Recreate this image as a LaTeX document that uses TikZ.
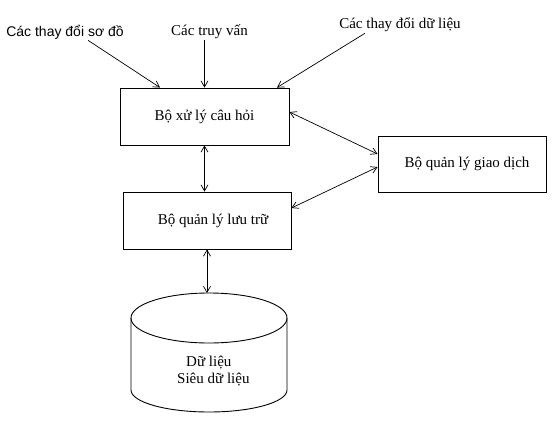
\documentclass[tikz,border=0pt]{standalone}
\usepackage{fontspec}
\setmainfont{Liberation Serif}
\newfontfamily\arialfont{Liberation Sans}
\usepackage{tikz}
\usetikzlibrary{arrows.meta, positioning, calc}

\tikzset{
    modbox/.style={draw, line width=0.9pt, minimum width=168pt, minimum height=57pt, inner sep=0pt, font=\fontsize{15}{17}\selectfont},
    lbl/.style={inner sep=1pt, font=\fontsize{15}{17}\selectfont},
    link/.style={line width=0.7pt, -{Straight Barb[length=6pt, width=7pt]}},
    dlink/.style={line width=0.7pt, {Straight Barb[length=6pt, width=7pt]}-{Straight Barb[length=6pt, width=7pt]}}
}

\begin{document}
\begin{tikzpicture}[x=1pt, y=-1pt]
        \useasboundingbox[fill=white] (0,0) rectangle (555,426);

        % --- MODULES ---
        \node[modbox, minimum width=169pt] (qp) at (204.5,116.5) {Bộ xử lý câu hỏi};
        \node[modbox] (sm) at (207,220.5) {\hspace*{12pt}Bộ quản lý lưu trữ};
        \node[modbox, minimum height=56pt] (tm) at (462,164) {\hspace*{10pt}Bộ quản lý giao dịch};

        % --- INPUTS ---
        \node[lbl, font=\arialfont\fontsize{14}{16}\selectfont] (schema) at (65,32) {Các thay đổi sơ đồ};
        \node[lbl] (query) at (209.5,32) {Các truy vấn};
        \node[lbl] (update) at (400,25) {Các thay đổi dữ liệu};

        \draw[link] ([xshift=23pt]schema.south) -- ([xshift=-44.5pt]qp.north);
        \draw[link] (query.south -| qp.north) -- (qp.north);
        \draw[link] ([xshift=-35pt]update.south) -- ([xshift=72.5pt]qp.north);

        % --- DATABASE (cylinder) ---
        \coordinate (dbtop) at (209,293);
        \coordinate (dbc) at (209,318);
        \draw[line width=0.9pt] (dbc) ellipse (78pt and 25pt);
        \draw[line width=0.9pt] ($(dbc)+(-78,0)$) -- ++(0,72) arc[start angle=180, end angle=360, x radius=78pt, y radius=22pt] -- ++(0,-72);
        \node[lbl, anchor=west] (data) at (185,363) {Dữ liệu};
        \node[lbl, anchor=west] (meta) at (176,380) {Siêu dữ liệu};

        % --- LINKS ---
        \draw[dlink] (qp.south) -- (qp.south |- sm.north);
        \draw[dlink] (sm.south) -- (sm.south |- dbtop);
        \draw[dlink] ([yshift=4.5pt]qp.east) -- ([yshift=10pt]tm.west);
        \draw[dlink] ([yshift=12.5pt]sm.east) -- ([yshift=-3pt]tm.west);

    \end{tikzpicture}
\end{document}
